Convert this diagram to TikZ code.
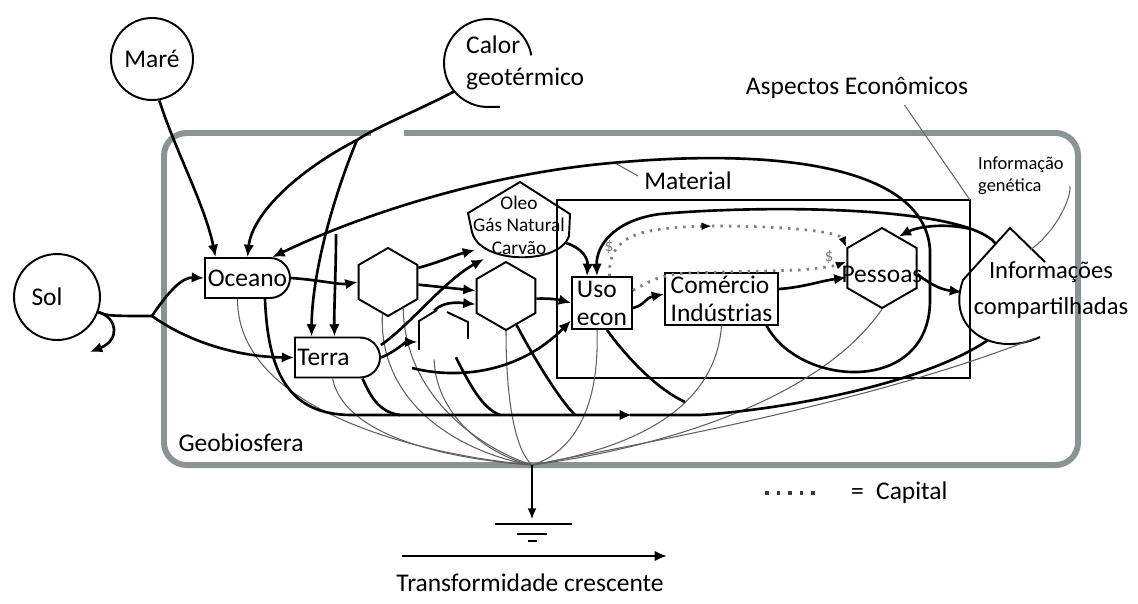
\documentclass[tikz,border=0pt]{standalone}
\usepackage{fontspec}
\setmainfont{Carlito}
\usetikzlibrary{arrows.meta,shapes.geometric,shapes.misc}

\definecolor{geogray}{RGB}{138,148,148}
\definecolor{drainc}{RGB}{95,95,95}

\tikzset{
  energy/.style={line width=1.5pt},
  flow/.style={energy,-{Latex[length=7pt,width=6pt]}},
  drainline/.style={draw=drainc,line width=0.6pt},
  capital/.style={draw=gray,line width=1.6pt,dash pattern=on 1.4pt off 3.4pt},
  source/.style={circle,draw,line width=1.1pt,minimum size=1.64cm,inner sep=0pt},
  tank/.style={rounded rectangle,rounded rectangle left arc=none,draw,line width=1.1pt,
    minimum width=1.7cm,minimum height=0.8cm,inner sep=0pt},
  consumer/.style={regular polygon,regular polygon sides=6,shape border rotate=90,
    draw,line width=1.1pt,minimum size=1.36cm,inner sep=0pt},
  econbox/.style={rectangle,draw,line width=1.1pt,align=left,inner sep=1.5pt},
  pointer/.style={draw=gray!80!black,line width=0.6pt},
}

\begin{document}
\begin{tikzpicture}[x=0.02cm,y=-0.02cm,font=\fontsize{14.5}{16}\selectfont]
\useasboundingbox (0,0) rectangle (1138,603);
% Geobiosfera frame
\draw[geogray,line width=3.4pt,rounded corners=0.45cm] (371,133) -| (164,465) -| (1078,133) -- (404,133);
\draw[line width=1.1pt] (557,200) rectangle (970,378);
\node (geo) at (241,443) {Geobiosfera};
% Sources
\node[source] (mare) at (152,59) {Maré};
\node[source,minimum size=1.72cm,label={[xshift=-0.2cm]center:Sol}] (sol) at (57,297) {};
\node[circle,minimum size=1.76cm,inner sep=0pt] (calor) at (488,63) {};
\draw[line width=1.1pt] ([shift={(10:0.88cm)}]calor.center) arc[start angle=10,end angle=275,radius=0.88cm] -- ++(8,0);
\node[align=left,anchor=west,font=\fontsize{14.5}{18}\selectfont] (calortxt) at (460,63) {Calor\\geotérmico};
% Storages and consumers
\node[tank,label=center:Oceano] (oceano) at (247.5,278) {};
\node[tank,label={[xshift=-0.28cm]center:Terra}] (terra) at (337.5,357.5) {};
\node[consumer] (hexA) at (388,282) {};
\node[consumer] (hexC) at (506,296) {};
\node[consumer,minimum size=1.14cm,draw=none] (hexD) at (443,335) {};
\draw[line width=1.1pt] (419,350) -- (419,321) -- (437,310);
\draw[line width=1.1pt] (447,312) -- (468,322) -- (468,339);
\node[consumer,minimum size=1.6cm,label={[yshift=-0.12cm]center:Pessoas}] (pessoas) at (882,268) {};
\draw[line width=1.1pt] (520,182) -- (570,214) -- (569,236) .. controls (560,265) and (480,265) .. (472,232) -- (468,213) -- cycle;
\node[align=center,font=\fontsize{11}{12.8}\selectfont] (oleo) at (519,225) {Oleo\\Gás Natural\\Carvão};
\node[econbox,minimum width=1.2cm,minimum height=1.04cm] (uso) at (602,303) {Uso\\econ};
\node[econbox,minimum width=2.26cm,minimum height=0.96cm] (comercio) at (721.5,299) {Comércio\\Indústrias};
\draw[line width=1.1pt] (1045,262) -- (1010,228) -- (963,280) .. controls (945,330) and (995,358) .. (1040,337);
\node[align=center,font=\fontsize{14}{21}\selectfont] (info) at (1051,290) {Informações\\compartilhadas};
% Labels
\node (aspectos) at (857,88) {Aspectos Econômicos};
\node (material) at (688,181) {Material};
\node[align=left,anchor=west,font=\fontsize{10.5}{12.5}\selectfont] (infogen) at (972,176) {Informação\\genética};
\coordinate (matpt) at (615,163);
\coordinate (genend) at (1030,250);
\draw[pointer] ([xshift=0.95cm]aspectos.south) -- (970,200);
\draw[pointer] (matpt) -- ([yshift=0.1cm]material.west);
\draw[pointer] ([yshift=-0.2cm]infogen.east) .. controls (1072,195) and (1058,230) .. (genend);
% Drains to the heat sink
\coordinate (sink) at (532,465);
\coordinate (infoB) at (988,340);
\coordinate (infoB2) at (1035,338);
\draw[drainline] ([xshift=-0.2cm]oceano.south) .. controls (237,410) and (420,455) .. (sink);
\draw[drainline] ([xshift=-0.1cm]terra.south) .. controls (345,440) and (460,460) .. (sink);
\draw[drainline] (hexA.-100) .. controls (378,410) and (470,455) .. (sink);
\draw[drainline] (hexA.-60) .. controls (405,400) and (485,450) .. (sink);
\draw[drainline] (hexD.-110) .. controls (436,420) and (495,458) .. (sink);
\draw[drainline] (hexC.-90) .. controls (506,400) and (515,450) .. (sink);
\draw[drainline] ([xshift=-0.1cm]uso.south) .. controls (600,420) and (565,455) .. (sink);
\draw[drainline] (comercio.south) .. controls (715,420) and (610,452) .. (sink);
\draw[drainline] (pessoas.-90) .. controls (820,400) and (660,448) .. (sink);
\draw[drainline] (infoB2) .. controls (880,400) and (660,440) .. (sink);
% Sol, Mare, Calor inputs
\coordinate (solback) at (90,352);
\coordinate (solsplit) at (152,316);
\coordinate (calorsplit) at (357,140);
\coordinate (matsplit) at (336,234);
\draw[flow] (sol.-20) .. controls (118,318) and (120,340) .. (solback);
\draw[energy] (sol.-20) .. controls (106,316) and (115,316) .. (solsplit);
\draw[flow] (solsplit) .. controls (168,292) and (182,277) .. (oceano.west);
\draw[flow] (solsplit) .. controls (190,343) and (240,357) .. (terra.west);
\draw[flow] (mare.-80) .. controls (175,150) and (205,205) .. ([xshift=-0.64cm]oceano.north);
\draw[energy] (calor.220) .. controls (415,112) and (380,125) .. (calorsplit);
\draw[flow] (calorsplit) .. controls (295,172) and (252,215) .. (oceano.north);
\draw[flow] (calorsplit) .. controls (332,200) and (312,275) .. ([xshift=-0.52cm]terra.north);
% Material loop
\draw[flow] ([xshift=-0.25cm]comercio.south east) .. controls (800,388) and (930,395) .. (930,300) -- (930,250)
  .. controls (925,170) and (790,148) .. (623,162) .. controls (490,172) and (360,215) .. (oceano.40);
\draw[flow] (matsplit) .. controls (336,270) and (334,305) .. ([xshift=-0.06cm]terra.north);
% Production chain
\coordinate (oleoinA) at (475,250);
\coordinate (oleoinB) at (484,259);
\coordinate (oleoout) at (566,243);
\coordinate (econin) at (412,368);
\draw[flow] (oceano.east) .. controls (320,280) and (340,285) .. (hexA.180);
\draw[flow] (hexA.25) .. controls (440,262) and (455,255) .. (oleoinA);
\draw[flow] ([yshift=0.25cm]terra.east) .. controls (410,325) and (445,280) .. (oleoinB);
\draw[flow] (hexA.-5) -- (hexC.170);
\draw[flow] (hexD.110) .. controls (445,300) and (462,303) .. (hexC.195);
\draw[flow] (terra.east) .. controls (395,352) and (405,342) .. (hexD.195);
\draw[flow] (hexC.-5) .. controls (550,298) and (560,300) .. (uso.west);
\draw[flow] (oleoout) .. controls (582,248) and (588,258) .. ([xshift=-0.3cm]uso.north);
\draw[flow] (econin) .. controls (460,380) and (520,372) .. ([yshift=-0.35cm]uso.west);
\draw[flow] ([yshift=-0.1cm]uso.east) .. controls (645,305) and (645,298) .. ([yshift=0.1cm]comercio.west);
\draw[flow] ([yshift=0.2cm]comercio.east) .. controls (805,287) and (820,281) .. (pessoas.195);
\coordinate (infoL1) at (996,244);
\coordinate (infoL2) at (962,292);
\coordinate (pessoasin) at (971,229);
\draw[flow] (pessoas.-10) .. controls (935,288) and (945,290) .. (infoL2);
\draw[flow] (infoL1) .. controls (965,205) and (760,205) .. (660,214) .. controls (615,220) and (596,245) .. ([xshift=-0.1cm]uso.north);
\draw[flow] (pessoasin) .. controls (940,222) and (915,228) .. (pessoas.62);
% Recycle line at the bottom
\coordinate (usodown) at (685,402);
\draw[flow] ([xshift=0.35cm]oceano.south) .. controls (268,375) and (290,414) .. (350,415) -- (632,415);
\draw[energy] (630,415) -- (700,415) .. controls (800,408) and (930,380) .. (infoB);
\draw[energy] ([xshift=0.5cm]terra.south) .. controls (370,395) and (378,412) .. (400,415);
\draw[energy] (hexD.-60) .. controls (470,385) and (482,408) .. (500,415);
\draw[energy] (hexC.-70) .. controls (535,360) and (560,400) .. (575,415);
\draw[energy] ([xshift=0.1cm]uso.south) .. controls (625,355) and (655,388) .. (usodown);
% Capital
\coordinate (capmid) at (712,226);
\draw[capital,-{Latex[length=6pt,color=black]}] ([xshift=0.15cm]uso.north) .. controls (608,235) and (640,228) .. (capmid);
\draw[capital,-{Latex[length=6pt,color=black]}] (capmid) .. controls (790,226) and (840,232) .. (pessoas.150);
\draw[capital,-{Latex[length=6pt,color=black]}] ([yshift=0.25cm]uso.east) .. controls (648,282) and (660,274) .. (690,273) -- (800,270) .. controls (820,268) and (835,266) .. (pessoas.170);
\node[gray,font=\fontsize{10}{12}\selectfont] (dollarA) at (609,247) {\$};
\node[gray,font=\fontsize{10}{12}\selectfont] (dollarB) at (829,257) {\$};
% Sink and legend
\coordinate (ground) at (532,519);
\draw[line width=0.8pt,-{Latex[length=6pt,width=5pt]}] (sink) -- (ground);
\draw[line width=0.8pt] (495,524) -- (572,524) (517,534) -- (547,534) (528,541) -- (537,541);
\coordinate (tstart) at (402,556);
\coordinate (tend) at (667,556);
\draw[flow] (tstart) -- (tend);
\node (transf) at (530,583) {Transformidade crescente};
\node[anchor=west] (capital) at (845,493) {=\hspace{7pt}Capital};
\coordinate (legstart) at (765,493);
\draw[draw=gray!45!black,line width=2pt,dash pattern=on 2pt off 4.6pt] (legstart) -- ([xshift=-0.45cm]capital.west);
\end{tikzpicture}
\end{document}
